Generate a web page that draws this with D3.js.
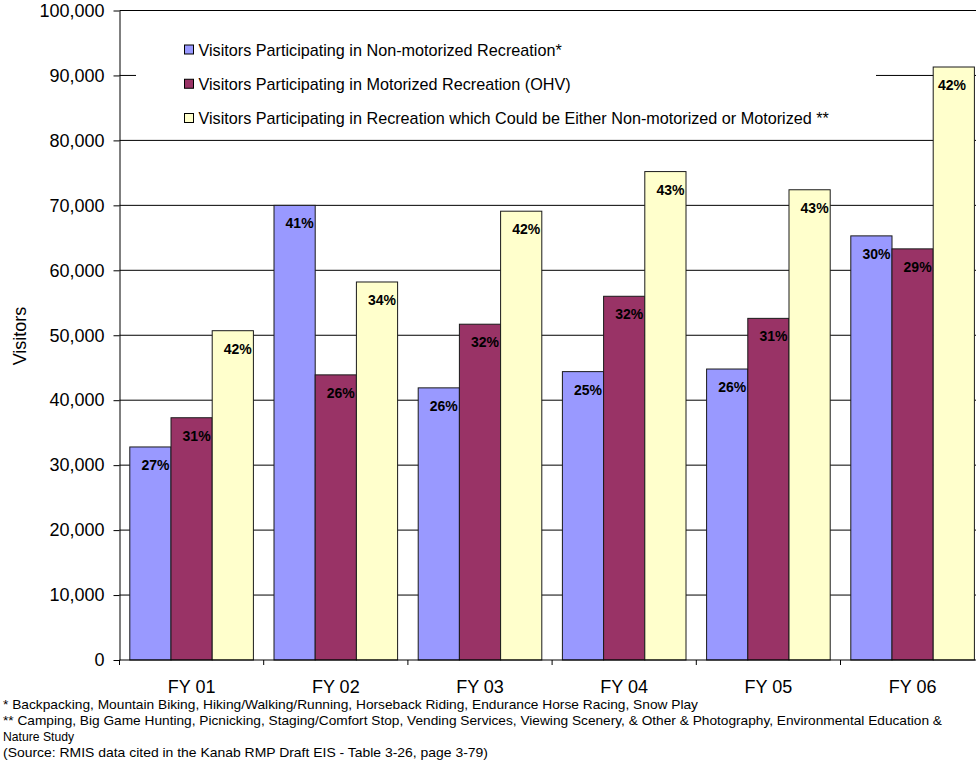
<!DOCTYPE html>
<html>
<head>
<meta charset="utf-8">
<script src="https://cdn.jsdelivr.net/npm/d3@7"></script>
<style>
  html, body { margin: 0; padding: 0; background: #fff; }
  svg { display: block; font-family: "Liberation Sans", Arial, Helvetica, sans-serif; }
</style>
</head>
<body>
<svg id="chart" width="976" height="763"></svg>
<script>
// Fiscal years on the category axis
const categories = ["FY 01", "FY 02", "FY 03", "FY 04", "FY 05", "FY 06"];

// Series names as shown in the legend
const seriesNames = [
  "Visitors Participating in Non-motorized Recreation*",
  "Visitors Participating in Motorized Recreation (OHV)",
  "Visitors Participating in Recreation which Could be Either Non-motorized or Motorized **"
];

// Visitor counts per fiscal year
const nonMotorized = [32800, 70000, 41900, 44400, 44800, 65300];
const motorized    = [37300, 43900, 51700, 56000, 52600, 63300];
const either       = [50700, 58200, 69100, 75200, 72400, 91300];

// Value axis ticks
const yTicks = [0, 10000, 20000, 30000, 40000, 50000, 60000, 70000, 80000, 90000, 100000];

// Notes printed under the chart
const footnotes = [
  "* Backpacking, Mountain Biking, Hiking/Walking/Running, Horseback Riding, Endurance Horse Racing, Snow Play",
  "** Camping, Big Game Hunting, Picnicking, Staging/Comfort Stop, Vending Services, Viewing Scenery, & Other & Photography, Environmental Education &",
  "Nature Study",
  "(Source: RMIS data cited in the Kanab RMP Draft EIS - Table 3-26, page 3-79)"
];
// Set widths of the note lines
const footnoteWidths = [695, 939, 71, 485];

const colors = ["#9999FF", "#993366", "#FFFFCC"];
const seriesValues = [nonMotorized, motorized, either];

const W = 976, H = 763;
const plotLeft = 119.5, plotBottom = 660, plotTop = 10.5;
const bandW = 144.2;
const plotRight = plotLeft + bandW * categories.length;

const svg = d3.select("#chart");

const y = d3.scaleLinear().domain([0, 100000]).range([plotBottom, plotTop]);
const x0 = d3.scaleBand().domain(categories).range([plotLeft, plotRight]).paddingInner(0).paddingOuter(0);
// Excel-style 50% gap width: group of 3 bars + half a bar of gap
const gapHalf = x0.bandwidth() * 0.25 / 3.5;
const x1 = d3.scaleBand().domain(d3.range(seriesNames.length)).range([gapHalf, x0.bandwidth() - gapHalf]).padding(0);

// Horizontal gridlines
svg.append("g").selectAll("line")
  .data(yTicks.filter(d => d > 0))
  .join("line")
  .attr("x1", plotLeft).attr("x2", W)
  .attr("y1", d => y(d)).attr("y2", d => y(d))
  .attr("stroke", "#000").attr("stroke-width", 1);

// Bars
const totals = categories.map((c, i) => d3.sum(seriesValues, s => s[i]));
const rows = [];
categories.forEach((c, i) => {
  seriesValues.forEach((s, k) => {
    rows.push({ cat: c, i, k, v: s[i], pct: Math.round(s[i] / totals[i] * 100) });
  });
});

svg.append("g").selectAll("rect")
  .data(rows)
  .join("rect")
  .attr("x", d => x0(d.cat) + x1(d.k))
  .attr("y", d => y(d.v))
  .attr("width", x1.bandwidth())
  .attr("height", d => plotBottom - y(d.v))
  .attr("fill", d => colors[d.k])
  .attr("stroke", "#1a1a1a")
  .attr("stroke-width", 1);

// Percentage labels inside bar tops
const labels = svg.append("g").selectAll("text")
  .data(rows)
  .join("text")
  .attr("y", d => y(d.v) + 23)
  .attr("text-anchor", "middle")
  .attr("font-size", 14)
  .attr("font-weight", "bold")
  .attr("fill", "#000")
  .text(d => d.pct + "%");
labels.each(function(d) {
  const tw = this.getComputedTextLength();
  const cx = x0(d.cat) + x1(d.k) + x1.bandwidth() / 2 + 5;
  d3.select(this).attr("x", Math.min(cx, W - 10 - tw / 2));
});

// Legend (white panel over the plot)
const legend = svg.append("g");
legend.append("rect")
  .attr("x", 136).attr("y", 30).attr("width", 740).attr("height", 100)
  .attr("fill", "#fff");
seriesNames.forEach((name, k) => {
  const cy = 50 + k * 34.25;
  legend.append("rect")
    .attr("x", 184.5).attr("y", cy - 5).attr("width", 9).attr("height", 9)
    .attr("fill", colors[k]).attr("stroke", "#000").attr("stroke-width", 1);
  legend.append("text")
    .attr("x", 198.5).attr("y", cy + 5.7)
    .attr("font-size", 16.2).attr("fill", "#000")
    .text(name);
});

// Value axis
const yAxis = d3.axisLeft(y)
  .tickValues(yTicks)
  .tickFormat(d3.format(","))
  .tickSize(6)
  .tickSizeOuter(0)
  .tickPadding(9);
const gy = svg.append("g").attr("transform", `translate(${plotLeft},0)`).call(yAxis);
gy.attr("font-family", null).attr("font-size", null);
gy.selectAll("text").attr("font-size", 18).attr("fill", "#000");
gy.selectAll("line, path").attr("stroke", "#000");

// Category axis
const gx = svg.append("g");
gx.append("line")
  .attr("x1", plotLeft).attr("x2", W)
  .attr("y1", plotBottom).attr("y2", plotBottom)
  .attr("stroke", "#000");
gx.selectAll("line.tick")
  .data(categories.map(c => x0(c)).concat([plotRight]))
  .join("line")
  .attr("class", "tick")
  .attr("x1", d => d).attr("x2", d => d)
  .attr("y1", plotBottom).attr("y2", plotBottom + 5)
  .attr("stroke", "#000");
gx.selectAll("text")
  .data(categories)
  .join("text")
  .attr("x", d => x0(d) + x0.bandwidth() / 2)
  .attr("y", 692.5)
  .attr("text-anchor", "middle")
  .attr("font-size", 18)
  .attr("fill", "#000")
  .text(d => d);

// Axis title
svg.append("text")
  .attr("transform", "translate(25.5,336) rotate(-90)")
  .attr("text-anchor", "middle")
  .attr("font-size", 18)
  .attr("fill", "#000")
  .text("Visitors");

// Footnotes
svg.append("g").selectAll("text")
  .data(footnotes)
  .join("text")
  .attr("x", 3)
  .attr("y", (d, i) => 708.5 + i * 16.3)
  .attr("font-size", 13.3)
  .attr("fill", "#000")
  .attr("textLength", (d, i) => footnoteWidths[i])
  .attr("lengthAdjust", "spacingAndGlyphs")
  .text(d => d);
</script>
</body>
</html>
